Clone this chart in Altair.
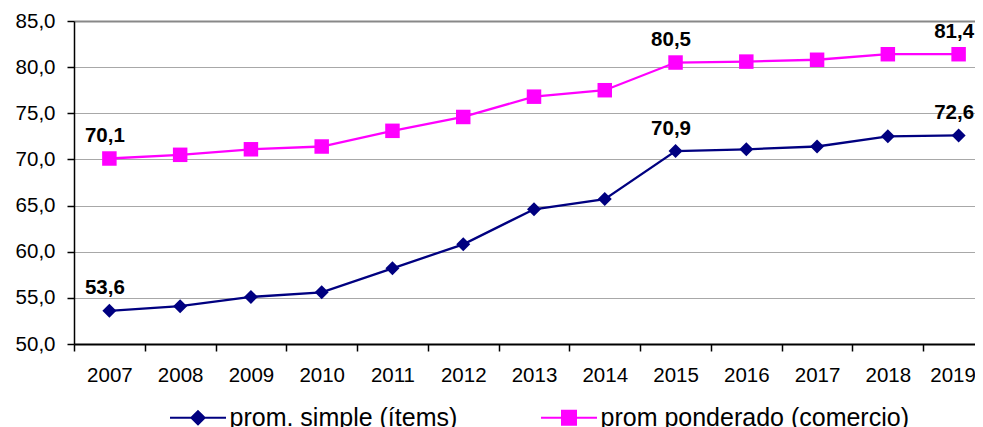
import altair as alt
import pandas as pd

FONT = "Liberation Sans, Arial, sans-serif"

years = ["2007", "2008", "2009", "2010", "2011", "2012", "2013",
         "2014", "2015", "2016", "2017", "2018", "2019"]
prom_simple = [53.6, 54.1, 55.1, 55.6, 58.2, 60.8, 64.6, 65.7, 70.9, 71.1, 71.4, 72.5, 72.6]
prom_ponderado = [70.1, 70.5, 71.1, 71.4, 73.1, 74.6, 76.8, 77.5, 80.5, 80.6, 80.8, 81.4, 81.4]
series_names = ["prom. simple (ítems)", "prom ponderado (comercio)"]
series_colors = ["#000080", "#FF00FF"]
labeled_years = ["2007", "2015", "2019"]
y_ticks = [50, 55, 60, 65, 70, 75, 80, 85]
# legend symbols: line segment with marker in the middle
legend_paths = ["M-4,0H4M0,-0.95L0.95,0L0,0.95L-0.95,0Z",
                "M-4,0H4M-1,-1H1V1H-1Z"]

rows = []
for name, vals in zip(series_names, [prom_simple, prom_ponderado]):
    for yr, v in zip(years, vals):
        rows.append({"year": yr, "value": v, "series": name,
                     "label": f"{v:.1f}".replace(".", ",")})
df = pd.DataFrame(rows)

x_enc = alt.X(
    "year:O", title=None, sort=years,
    scale=alt.Scale(type="band", domain=years, paddingInner=0, paddingOuter=0),
    axis=alt.Axis(tickBand="extent", labelAngle=0, labelFont=FONT, labelFontSize=20.5,
                  labelColor="black", tickSize=7, tickColor="black", tickWidth=1.5,
                  domainColor="black", domainWidth=1.8, labelPadding=14, grid=False,
                  labelOffset={"condition": {"test": "datum.value == '2019'", "value": -6},
                               "value": 0}),
)
y_enc = alt.Y(
    "value:Q", title=None,
    scale=alt.Scale(domain=[50, 85], nice=False, zero=False),
    axis=alt.Axis(values=y_ticks,
                  labelExpr="replace(format(datum.value, '.1f'), '.', ',')",
                  labelFont=FONT, labelFontSize=20.5, labelColor="black",
                  tickSize=7, tickColor="black", tickWidth=1.5, labelPadding=12,
                  domainColor="black", domainWidth=1.5, grid=True,
                  gridColor={"condition": {"test": "datum.value === 85", "value": "#888888"},
                             "value": "#a8a8a8"},
                  gridWidth={"condition": {"test": "datum.value === 85", "value": 2},
                             "value": 1}),
)

color_scale = alt.Scale(domain=series_names, range=series_colors)

legend_def = alt.Legend(
    title=None, orient="none", legendX=111.5, legendY=384, direction="horizontal",
    labelFont=FONT, labelFontSize=25, labelColor="black", labelLimit=0,
    symbolSize=196, symbolStrokeWidth=2, symbolOpacity=1,
    labelOffset=19, columnPadding=79,
)

# carrier layer for the legend (first, so its legend settings win); its points have zero size
legend_layer = alt.Chart(df).mark_point(
    filled=True, opacity=1, strokeWidth=2, size=0
).encode(
    x=x_enc, y=y_enc,
    color=alt.Color("series:N", scale=color_scale, legend=legend_def),
    stroke=alt.Stroke("series:N", scale=color_scale, legend=legend_def),
    shape=alt.Shape("series:N", scale=alt.Scale(domain=series_names, range=legend_paths),
                    legend=legend_def),
)

lines = alt.Chart(df).mark_line(strokeWidth=2.3).encode(
    x=x_enc, y=y_enc,
    color=alt.Color("series:N", scale=color_scale),
)

pts_simple = alt.Chart(df).transform_filter(
    alt.datum.series == series_names[0]
).mark_point(filled=True, opacity=1, shape="diamond", size=196).encode(
    x=x_enc, y=y_enc,
    color=alt.Color("series:N", scale=color_scale),
)

pts_pond = alt.Chart(df).transform_filter(
    alt.datum.series == series_names[1]
).mark_point(filled=True, opacity=1, shape="square", size=210).encode(
    x=x_enc, y=y_enc,
    color=alt.Color("series:N", scale=color_scale),
)

labels = alt.Chart(df).transform_filter(
    alt.FieldOneOfPredicate(field="year", oneOf=labeled_years)
).mark_text(font=FONT, fontSize=20.5, fontWeight="bold", color="black",
            dx=-4.5, dy=-22.5, baseline="middle").encode(
    x=x_enc, y=y_enc, text="label:N",
)

chart = alt.layer(legend_layer, lines, pts_simple, pts_pond, labels).properties(
    width=920, height=323,
    padding={"left": 66, "top": 13, "right": -19, "bottom": 83},
    autosize=alt.AutoSizeParams(type="none"),
).configure_view(stroke=None)

chart.save("out.html", embed_options={"renderer": "svg", "actions": False})
